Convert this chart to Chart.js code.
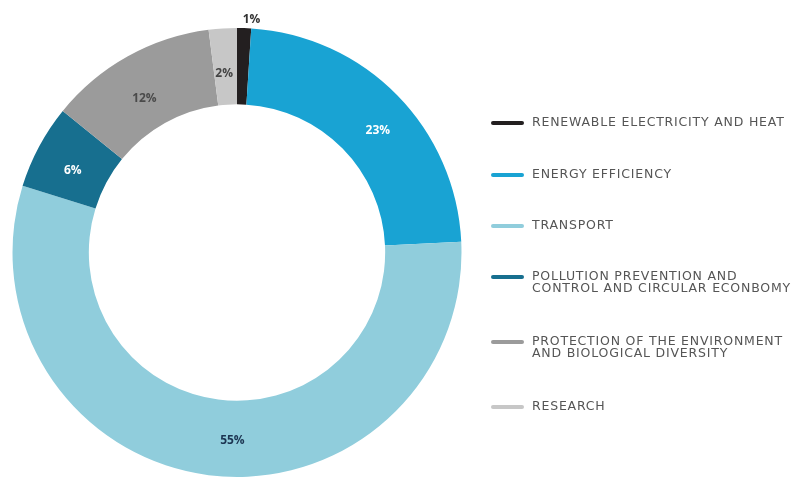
<!DOCTYPE html>
<html>
<head>
<meta charset="utf-8">
<script src="https://cdn.jsdelivr.net/npm/chart.js@4.4.0/dist/chart.umd.min.js"></script>
<style>
  html, body { margin: 0; padding: 0; background: #fff; }
  #wrap { width: 804px; height: 479px; position: relative; }
</style>
</head>
<body>
<div id="wrap"><canvas id="donutChart"></canvas></div>
<script>
// data
const categories = [
  ["RENEWABLE ELECTRICITY AND HEAT"],
  ["ENERGY EFFICIENCY"],
  ["TRANSPORT"],
  ["POLLUTION PREVENTION AND", "CONTROL AND CIRCULAR ECONBOMY"],
  ["PROTECTION OF THE ENVIRONMENT", "AND BIOLOGICAL DIVERSITY"],
  ["RESEARCH"]
];
const shares = [1, 23, 55, 6, 12, 2];
const shareLabels = ["1%", "23%", "55%", "6%", "12%", "2%"];

const sliceColors = ["#231f20", "#19a3d3", "#90cddc", "#176f8f", "#9b9b9b", "#c7c7c7"];
const labelColors = ["#333333", "#ffffff", "#1c3552", "#ffffff", "#4a4a4a", "#444444"];
// small hand nudges so the % text sits where the original put it
const labelNudge = [[7, 5], [8, 9], [19, 3], [0, 6], [-2, 9], [-1, 7]];

// percent labels inside the ring (the 1% sits outside)
const sliceLabels = {
  id: "sliceLabels",
  afterDatasetsDraw(chart) {
    const ctx = chart.ctx;
    const meta = chart.getDatasetMeta(0);
    ctx.save();
    ctx.font = "bold 12px 'Open Sans'";
    ctx.textAlign = "center";
    ctx.textBaseline = "middle";
    meta.data.forEach((arc, i) => {
      const p = arc.getProps(["x", "y", "startAngle", "endAngle", "innerRadius", "outerRadius"]);
      const mid = (p.startAngle + p.endAngle) / 2;
      let r = (p.innerRadius + p.outerRadius) / 2;
      if (shares[i] < 2) r = p.outerRadius + 14;
      ctx.fillStyle = labelColors[i];
      ctx.fillText(shareLabels[i],
        p.x + Math.cos(mid) * r + labelNudge[i][0],
        p.y + Math.sin(mid) * r + labelNudge[i][1]);
    });
    ctx.restore();
  }
};

// legend on the right, short thick line + light caps text
const sideLegend = {
  id: "sideLegend",
  afterDraw(chart) {
    const ctx = chart.ctx;
    const rows = [123, 175, 226, 277, 342, 407];
    ctx.save();
    ctx.font = "12.5px 'DejaVu Sans'";
    ctx.letterSpacing = "0.8px";
    ctx.textBaseline = "middle";
    ctx.fillStyle = "#555555";
    categories.forEach((lines, i) => {
      ctx.strokeStyle = sliceColors[i];
      ctx.lineWidth = 4;
      ctx.lineCap = "round";
      ctx.beginPath();
      ctx.moveTo(493, rows[i]);
      ctx.lineTo(522, rows[i]);
      ctx.stroke();
      lines.forEach((t, j) => {
        ctx.fillText(t, 532, rows[i] + j * 12);
      });
    });
    ctx.restore();
  }
};

new Chart(document.getElementById("donutChart"), {
  type: "doughnut",
  data: {
    labels: categories.map(c => c.join(" ")),
    datasets: [{
      data: shares,
      backgroundColor: sliceColors,
      borderWidth: 0
    }]
  },
  options: {
    responsive: true,
    maintainAspectRatio: false,
    animation: false,
    cutout: "66%",
    layout: { padding: { top: 28, bottom: 2, left: 12, right: 342 } },
    plugins: {
      legend: { display: false },
      tooltip: { enabled: false }
    }
  },
  plugins: [sliceLabels, sideLegend]
});
</script>
</body>
</html>
